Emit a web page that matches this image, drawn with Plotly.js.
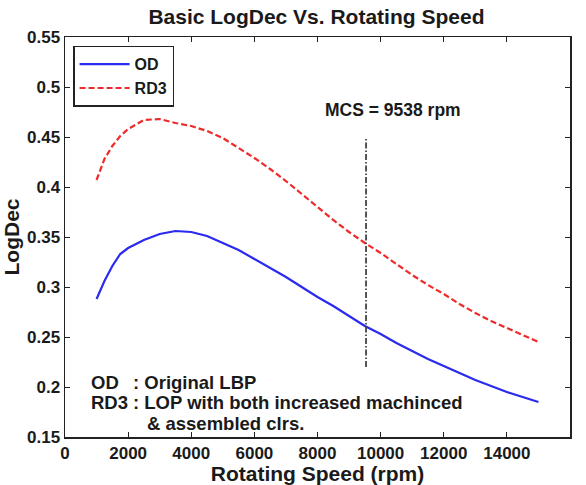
<!DOCTYPE html>
<html>
<head>
<meta charset="utf-8">
<script src="https://cdn.plot.ly/plotly-3.0.1.min.js"></script>
<style>html,body{margin:0;padding:0;background:#fff;}#chart{width:586px;height:485px;}</style>
</head>
<body>
<div id="chart"></div>
<script>
// Data
const speedOD = [1000, 1250, 1500, 1750, 2000, 2500, 3000, 3500, 4000, 4500, 5000, 5500, 6000, 6500, 7000, 7500, 8000, 8500, 9000, 9500, 10000, 10500, 11000, 11500, 12000, 12500, 13000, 13500, 14000, 14500, 15000];
const logdecOD = [0.288, 0.306, 0.321, 0.333, 0.339, 0.347, 0.353, 0.356, 0.355, 0.351, 0.344, 0.337, 0.328, 0.319, 0.310, 0.300, 0.290, 0.281, 0.271, 0.261, 0.253, 0.244, 0.236, 0.228, 0.221, 0.214, 0.207, 0.201, 0.195, 0.190, 0.185];
const speedRD3 = [1000, 1250, 1500, 1750, 2000, 2500, 3000, 3500, 4000, 4500, 5000, 5500, 6000, 6500, 7000, 7500, 8000, 8500, 9000, 9500, 10000, 10500, 11000, 11500, 12000, 12500, 13000, 13500, 14000, 14500, 15000];
const logdecRD3 = [0.407, 0.428, 0.441, 0.451, 0.458, 0.467, 0.468, 0.464, 0.461, 0.456, 0.449, 0.439, 0.429, 0.418, 0.406, 0.393, 0.380, 0.367, 0.355, 0.344, 0.334, 0.323, 0.312, 0.302, 0.293, 0.283, 0.274, 0.266, 0.259, 0.252, 0.245];
const mcsSpeed = [9538, 9538];
const mcsRange = [0.22, 0.45];
const xTicks = [0, 2000, 4000, 6000, 8000, 10000, 12000, 14000, 16000];
const xTickLabels = ["0", "2000", "4000", "6000", "8000", "10000", "12000", "14000", "16000"];
const yTicks = [0.15, 0.2, 0.25, 0.3, 0.35, 0.4, 0.45, 0.5, 0.55];
const yTickLabels = ["0.15", "0.2", "0.25", "0.3", "0.35", "0.4", "0.45", "0.5", "0.55"];

const FONT = "Liberation Sans, Arial, sans-serif";
const INK = '#1a1a1a';
const bold = s => '<b>' + s + '</b>';

const traces = [
  {x: speedOD, y: logdecOD, type: 'scatter', mode: 'lines', name: bold('OD'),
   line: {color: '#2a2af0', width: 2.2}},
  {x: speedRD3, y: logdecRD3, type: 'scatter', mode: 'lines', name: bold('RD3'),
   line: {color: '#f02a2a', width: 2.2, dash: '6px,3px'}},
  {x: mcsSpeed, y: mcsRange, type: 'scatter', mode: 'lines', showlegend: false,
   line: {color: '#444444', width: 1.8, dash: '6px,2px,1.5px,2px'}}
];

const annFont = {family: FONT, size: 18.5, color: INK, weight: 700};
const layout = {
  width: 586, height: 485,
  margin: {l: 65, r: 16, t: 37, b: 48},
  paper_bgcolor: '#fff', plot_bgcolor: '#fff',
  font: {family: FONT, color: INK},
  title: {text: bold('Basic LogDec Vs. Rotating Speed'), x: 0.54, xanchor: 'center',
          y: 1 - 17/485, yanchor: 'middle', yref: 'container',
          font: {family: FONT, size: 21, weight: 700, color: INK}},
  xaxis: {range: [0, 16000], tickvals: xTicks, ticktext: xTickLabels.map(bold),
          ticks: 'inside', ticklen: 5, tickcolor: '#222', mirror: 'ticks',
          showline: true, linecolor: '#222', linewidth: 1.5, showgrid: false, zeroline: false,
          tickfont: {family: FONT, size: 17, weight: 700, color: INK},
          title: {text: bold('Rotating Speed (rpm)'), standoff: 7,
                  font: {family: FONT, size: 21, weight: 700, color: INK}}},
  yaxis: {range: [0.15, 0.55], tickvals: yTicks, ticktext: yTickLabels.map(bold),
          ticks: 'inside', ticklen: 5, tickcolor: '#222', mirror: 'ticks',
          showline: true, linecolor: '#222', linewidth: 1.5, showgrid: false, zeroline: false,
          tickfont: {family: FONT, size: 17, weight: 700, color: INK},
          title: {text: bold('LogDec'), standoff: 2,
                  font: {family: FONT, size: 21, weight: 700, color: INK}}},
  legend: {x: 0.016, y: 0.978, xanchor: 'left', yanchor: 'top',
           bgcolor: '#fff', bordercolor: '#222', borderwidth: 1.5,
           font: {family: FONT, size: 16, weight: 700, color: INK},
           itemwidth: 50, tracegroupgap: 0},
  annotations: [
    {x: 10392, y: 0.477, xref: 'x', yref: 'y', text: bold('MCS = 9538 rpm'), showarrow: false,
     font: {family: FONT, size: 17.5, weight: 700, color: INK}},
    {x: 760, y: 0.205, xref: 'x', yref: 'y', text: bold('OD'), xanchor: 'left', showarrow: false, font: annFont},
    {x: 760, y: 0.185, xref: 'x', yref: 'y', text: bold('RD3'), xanchor: 'left', showarrow: false, font: annFont},
    {x: 2091, y: 0.205, xref: 'x', yref: 'y', text: bold(': Original LBP'), xanchor: 'left', showarrow: false, font: annFont},
    {x: 2091, y: 0.185, xref: 'x', yref: 'y', text: bold(': LOP with both increased machinced'), xanchor: 'left', showarrow: false, font: annFont},
    {x: 2535, y: 0.164, xref: 'x', yref: 'y', text: bold('& assembled clrs.'), xanchor: 'left', showarrow: false, font: annFont}
  ]
};

Plotly.newPlot('chart', traces, layout, {displayModeBar: false, staticPlot: true});
</script>
</body>
</html>
